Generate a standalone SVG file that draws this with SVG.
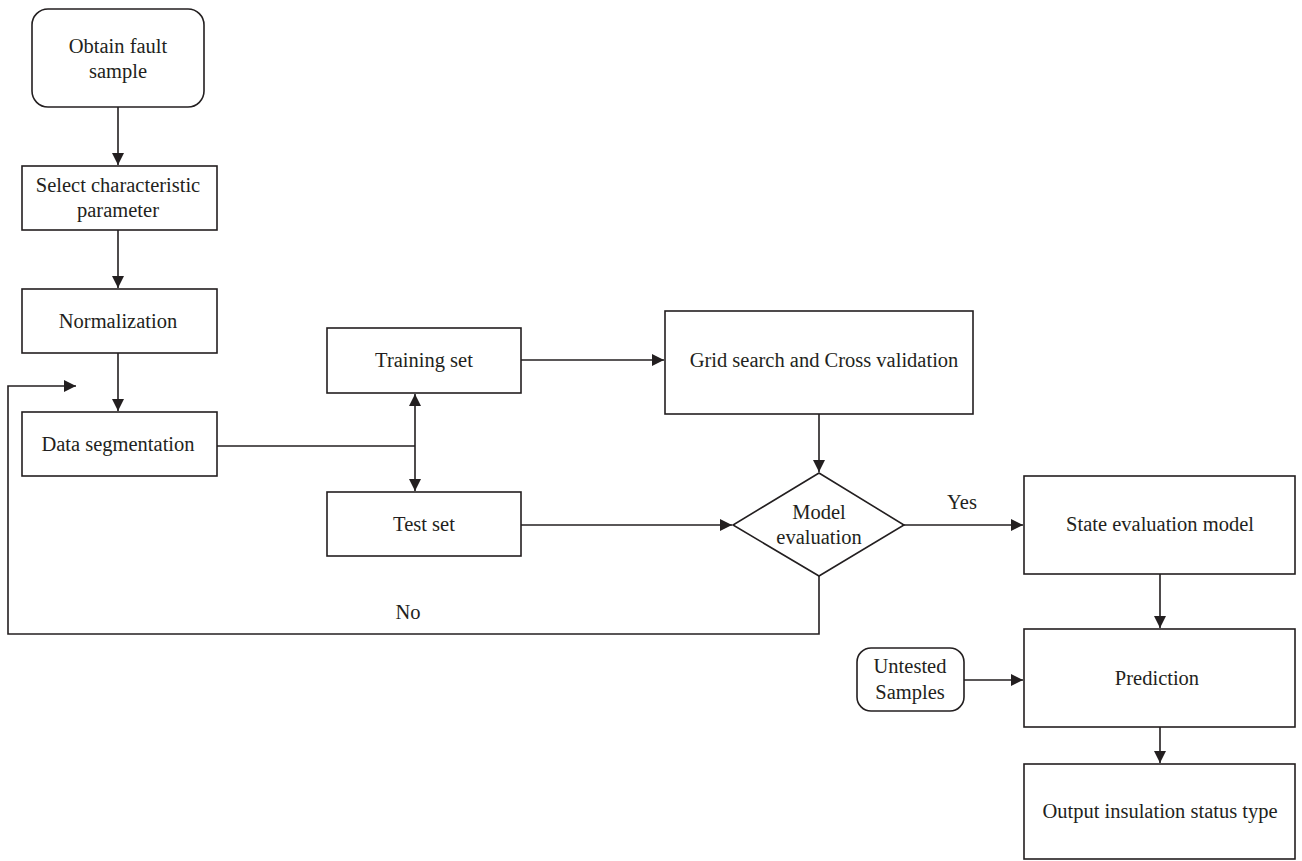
<svg xmlns="http://www.w3.org/2000/svg" width="1302" height="861" viewBox="0 0 1302 861">
<defs>
<marker id="ah" markerUnits="userSpaceOnUse" markerWidth="14" markerHeight="12" refX="12" refY="6" orient="auto-start-reverse">
<path d="M0,0 L12,6 L0,12 Z" fill="#231f20"/>
</marker>
<style>
.box{fill:#fff;stroke:#231f20;stroke-width:1.6}
.t{font-family:"Liberation Serif","Times New Roman",serif;font-size:20.5px;fill:#231f20;text-anchor:middle}
.c{fill:none;stroke:#231f20;stroke-width:1.6}
</style>
</defs>
<rect width="1302" height="861" fill="#fff"/>
<g id="connectors">
<line class="c" x1="118" y1="107" x2="118" y2="165" marker-end="url(#ah)"/>
<line class="c" x1="118" y1="230" x2="118" y2="288" marker-end="url(#ah)"/>
<line class="c" x1="118" y1="353" x2="118" y2="411" marker-end="url(#ah)"/>
<polyline class="c" points="217,446 415,446"/>
<line class="c" x1="415" y1="446" x2="415" y2="394" marker-end="url(#ah)"/>
<line class="c" x1="415" y1="446" x2="415" y2="491" marker-end="url(#ah)"/>
<line class="c" x1="521" y1="360" x2="664" y2="360" marker-end="url(#ah)"/>
<line class="c" x1="819" y1="414" x2="819" y2="472" marker-end="url(#ah)"/>
<line class="c" x1="521" y1="525" x2="732" y2="525" marker-end="url(#ah)"/>
<line class="c" x1="904" y1="525" x2="1023" y2="525" marker-end="url(#ah)"/>
<polyline class="c" points="819,576 819,634 8,634 8,386 76,386" marker-end="url(#ah)"/>
<line class="c" x1="1160" y1="574" x2="1160" y2="628" marker-end="url(#ah)"/>
<line class="c" x1="1160" y1="727" x2="1160" y2="763" marker-end="url(#ah)"/>
<line class="c" x1="964" y1="680" x2="1023" y2="680" marker-end="url(#ah)"/>
<text class="t" x="962" y="509">Yes</text>
<text class="t" x="408" y="619">No</text>
</g>
<g id="obtain">
<rect class="box" x="32" y="9" width="172" height="98" rx="16"/>
<text class="t" x="118" y="53">Obtain fault</text>
<text class="t" x="118" y="78">sample</text>
</g>
<g id="select">
<rect class="box" x="22" y="166" width="195" height="64"/>
<text class="t" x="118" y="192">Select characteristic</text>
<text class="t" x="118" y="217">parameter</text>
</g>
<g id="normalization">
<rect class="box" x="22" y="289" width="195" height="64"/>
<text class="t" x="118" y="328">Normalization</text>
</g>
<g id="segmentation">
<rect class="box" x="22" y="412" width="195" height="64"/>
<text class="t" x="118" y="451">Data segmentation</text>
</g>
<g id="training">
<rect class="box" x="327" y="328" width="194" height="65"/>
<text class="t" x="424" y="367">Training set</text>
</g>
<g id="test">
<rect class="box" x="327" y="492" width="194" height="64"/>
<text class="t" x="424" y="531">Test set</text>
</g>
<g id="grid">
<rect class="box" x="665" y="311" width="308" height="103"/>
<text class="t" x="824" y="367">Grid search and Cross validation</text>
</g>
<g id="model">
<polygon class="box" points="819,473 904,525 819,576 733,525"/>
<text class="t" x="819" y="519">Model</text>
<text class="t" x="819" y="544">evaluation</text>
</g>
<g id="state">
<rect class="box" x="1024" y="476" width="271" height="98"/>
<text class="t" x="1160" y="531">State evaluation model</text>
</g>
<g id="prediction">
<rect class="box" x="1024" y="629" width="271" height="98"/>
<text class="t" x="1157" y="685">Prediction</text>
</g>
<g id="output">
<rect class="box" x="1024" y="764" width="271" height="95"/>
<text class="t" x="1160" y="818">Output insulation status type</text>
</g>
<g id="untested">
<rect class="box" x="857" y="648" width="107" height="63" rx="14"/>
<text class="t" x="910" y="673">Untested</text>
<text class="t" x="910" y="699">Samples</text>
</g>
</svg>
